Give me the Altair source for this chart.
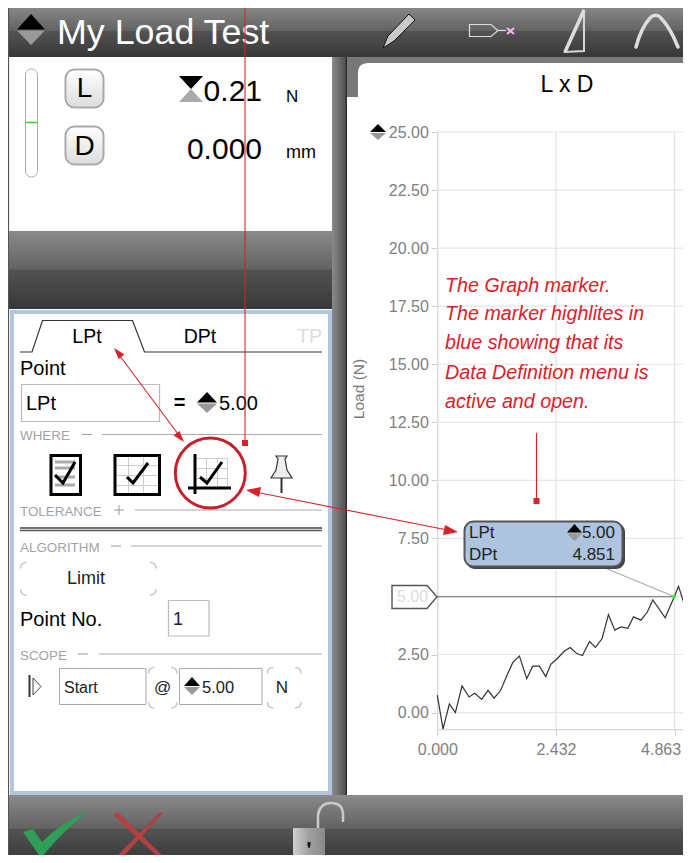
import re
import altair as alt
import pandas as pd

# ---- chart data ----
distance = [0.000,0.117,0.247,0.370,0.507,0.650,0.767,0.910,1.040,1.163,1.300,1.437,1.546,1.683,1.833,1.956,2.093,2.223,2.326,2.462,2.599,2.722,2.859,2.975,3.119,3.242,3.378,3.508,3.638,3.768,3.905,4.021,4.172,4.302,4.418,4.671,4.855,4.944,5.067,5.197]
load = [0.75,-0.71,0.37,0.00,1.15,0.67,0.83,0.57,0.96,0.62,0.96,1.65,2.15,2.43,1.46,2.00,2.00,1.55,2.08,2.33,2.64,2.80,2.54,2.46,3.06,2.81,3.19,4.22,3.55,3.69,3.63,4.12,3.98,4.32,4.85,4.08,4.98,5.44,4.63,5.67]
y_ticks = [0.0,2.5,5.0,7.5,10.0,12.5,15.0,17.5,20.0,22.5,25.0]
x_ticks = [0.000,2.432,4.863]
marker_load = [5.00]
marker_distance = [4.851]
note_lines = ["The Graph marker.","The marker highlites in","blue showing that its","Data Definition menu is","active and open."]

SANS = "Liberation Sans"
OFF = 8
W, H = 675, 847
RED = "#dc2029"
one = pd.DataFrame({"i":[0]})
layers = []

def grad(*stops):
    return alt.Gradient(gradient="linear", x1=0, x2=0, y1=0, y2=1,
                        stops=[alt.GradientStop(color=c, offset=o) for o, c in stops])

def R(x0, y0, x1, y1, fill=None, stroke=None, sw=1, radius=0):
    kw = {}
    if fill is not None: kw["color"] = fill
    else: kw["fillOpacity"] = 0
    if stroke is not None:
        kw["stroke"] = stroke; kw["strokeWidth"] = sw
    if radius: kw["cornerRadius"] = radius
    layers.append(alt.Chart(one).mark_rect(opacity=1, **kw).encode(
        x=alt.value(x0-OFF), x2=alt.value(x1-OFF), y=alt.value(y0-OFF), y2=alt.value(y1-OFF)))

def P(d, fill=None, stroke=None, sw=1, cap="butt", join="miter"):
    toks = re.findall(r"[A-Za-z]|-?\d+\.?\d*", d)
    nums = [float(t) for t in toks if not t.isalpha()]
    xs_, ys_ = nums[0::2], nums[1::2]
    cx, cy = (min(xs_)+max(xs_))/2, (min(ys_)+max(ys_))/2
    r = max(max(xs_)-min(xs_), max(ys_)-min(ys_))/2 or 1
    out, i = [], 0
    for t in toks:
        if t.isalpha():
            out.append(t)
        else:
            v = float(t)
            out.append(f"{(v-(cx if i%2==0 else cy))/r:.5f}")
            i += 1
    kw = {"shape":" ".join(out), "size":(2*r)**2, "opacity":1, "strokeCap":cap, "strokeJoin":join}
    if fill is not None:
        kw["filled"] = True; kw["fill"] = fill
    else:
        kw["filled"] = False
    if stroke is not None:
        kw["stroke"] = stroke; kw["strokeWidth"] = sw
    else:
        kw["strokeWidth"] = 0
    layers.append(alt.Chart(one).mark_point(**kw).encode(x=alt.value(cx-OFF), y=alt.value(cy-OFF)))

def L(x0, y0, x1, y1, color="#aaa", sw=1, cap="butt"):
    P(f"M{x0} {y0} L{x1} {y1}", stroke=color, sw=sw, cap=cap)

def T(x, y, s, size, color="#000", align="left", font=SANS, style=None, weight=None):
    kw = {}
    if style: kw["fontStyle"] = style
    if weight: kw["fontWeight"] = weight
    layers.append(alt.Chart(one).mark_text(text=s, fontSize=size, color=color, align=align,
                                           baseline="alphabetic", font=font, **kw).encode(
        x=alt.value(x-OFF), y=alt.value(y-OFF)))

def spin(x0, x1, y0, y1, hour=False):
    m = (y0+y1)/2; c = (x0+x1)/2
    if hour:
        P(f"M{x0} {y0} L{x1} {y0} L{c} {m} Z", fill="#000")
        P(f"M{x0} {y1} L{x1} {y1} L{c} {m} Z", fill="#aaa")
    else:
        P(f"M{x0} {m} L{c} {y0} L{x1} {m} Z", fill="#000")
        P(f"M{x0} {m+1} L{c} {y1} L{x1} {m+1} Z", fill="#999")

def corners(x0, y0, x1, y1, l=6, color="#c8c8c8"):
    P(f"M{x0} {y0+l} Q{x0} {y0} {x0+l} {y0} M{x1-l} {y0} Q{x1} {y0} {x1} {y0+l} "
      f"M{x1} {y1-l} Q{x1} {y1} {x1-l} {y1} M{x0+l} {y1} Q{x0} {y1} {x0} {y1-l}", stroke=color, sw=1.5)

band = grad((0,"#8a8a8a"),(0.49,"#626262"),(0.5,"#525252"),(1,"#383838"))

# ---- chart scales and axes ----
xs = alt.Scale(domain=[0,5.2], range=[429.3,683], nice=False, zero=False)
ys = alt.Scale(domain=[-0.72,25], range=[721.3,124], nice=False, zero=False)
x_axis = alt.Axis(values=x_ticks, format=".3f", title=None, grid=False, orient="bottom",
            offset=-(H-721.3), domainColor="#cccccc", tickColor="#cccccc", tickSize=6, labelColor="#808080",
            labelFont=SANS, labelFontSize=16, labelPadding=6, labelFlush=False, labelOverlap=False,
            labelOffset={"condition":{"test":"datum.value > 4","value":-14},"value":0})
y_axis = alt.Axis(values=y_ticks, format=".2f", title="Load (N)", grid=False, orient="left",
            offset=-429.3, domainColor="#cccccc", tickColor="#cccccc", tickSize=6, labelColor="#808080",
            labelFont=SANS, labelFontSize=16, labelPadding=3, labelFlush=False, labelOverlap=False,
            titleColor="#777777", titleFont=SANS, titleFontSize=15.5, titleFontWeight="normal",
            titleX=-71, titleY=380.5)
X = alt.X("d:Q", scale=xs, axis=x_axis)
Y = alt.Y("l:Q", scale=ys, axis=y_axis)

layers.append(alt.Chart(pd.DataFrame({"l":y_ticks})).mark_rule(color="#e6e6e6", strokeWidth=1.2).encode(
    y=Y, x=alt.value(429), x2=alt.value(683)))
layers.append(alt.Chart(pd.DataFrame({"d":x_ticks[1:]})).mark_rule(color="#e2e2e2", strokeWidth=1.2).encode(
    x=X, y=alt.value(124), y2=alt.value(721)))
layers.append(alt.Chart(pd.DataFrame({"d":distance,"l":load})).mark_line(color="#333333", strokeWidth=1.2, clip=False).encode(x=X, y=Y))

# ---- window chrome ----
R(8,6,691,57,fill=band)
L(8.5,6,8.5,863,color="#555",sw=1.2)
R(332,57,347,795,fill=alt.Gradient(gradient="linear",x1=0,x2=1,y1=0,y2=0,stops=[alt.GradientStop(color="#8a8a8a",offset=0),alt.GradientStop(color="#555",offset=0.85),alt.GradientStop(color="#222",offset=1)]))
P("M347 57 L691 57 L691 63 L368 63 Q358 63 358 73 L358 97 L347 97 Z", fill="#787878")
R(9,231,332,309,fill=band)
R(9,795,691,863,fill=band)
R(12,312,330,793,fill="#ffffff",stroke="#b2c6e0",sw=4)

# header
spin(17,45,14,45)
T(57,44,"My Load Test",35.8,"#ffffff")
P("M383 48 L388 36 L409 14 L415 20 L394 41 Z", fill="#c9c9c9", stroke="#111", sw=1)
P("M469.5 24.5 L491 24.5 L498 30.5 L491 36.5 L469.5 36.5 Z", stroke="#ddd", sw=1.2)
L(498,30.5,506,30.5,color="#ddd",sw=1.2)
P("M507 28 L514 34 M514 28 L507 34", stroke="#f0b8f0", sw=2)
P("M565 52 L584 10 L584 51 Z", stroke="#d8d8d8", sw=2)
L(565,52,584,10,color="#dddddd",sw=3.5)
P("M636 47 Q641 28 650 18 Q655 13 660 17 Q670 27 678 47", stroke="#dddddd", sw=3.5, cap="round")

# status panel
R(25.5,69,37.5,177,fill="#ffffff",stroke="#aaaaaa",sw=1,radius=6)
L(26,122.5,37,122.5,color="#33dd33",sw=1.6)
btn = grad((0,"#ffffff"),(1,"#dcdcdc"))
R(65.5,69.5,103.5,107.5,fill=btn,stroke="#aaaaaa",sw=2,radius=9)
R(65.5,126.5,103.5,164.5,fill=btn,stroke="#aaaaaa",sw=2,radius=9)
T(84.5,97,"L",28,align="center")
T(84.5,155,"D",28,align="center")
spin(179,203,76,102,hour=True)
T(262,101,"0.21",30,align="right")
T(262,159,"0.000",30,align="right")
T(286,102,"N",17)
T(286,158,"mm",18)

# data definition panel
P("M20 352 L32 352 L42.5 320.5 L132.5 320.5 L144.5 352 L322 352", stroke="#333", sw=1.2)
T(87,343,"LPt",19.5,align="center")
T(200,343,"DPt",19.5,align="center")
T(322,343,"TP",19.5,"#dcdcdc",align="right")
T(20,375,"Point",20)
R(21.5,384.5,159.5,421.5,stroke="#bbbbbb",sw=1.2)
T(26,410,"LPt",20)
T(179.5,409,"=",20,align="center",weight="bold")
spin(197,217,392,413)
T(219,410,"5.00",20)

def section(label, y, sym_x, line_x, sym="-"):
    T(20,y+5.5,label,13.4,"#9fa3ab")
    L(sym_x,y,sym_x+10,y,color="#999",sw=1)
    if sym == "+":
        L(sym_x+5,y-5,sym_x+5,y+5,color="#999",sw=1)
    L(line_x,y,322,y,color="#aaaaaa",sw=1)
section("WHERE",434.5,82,102)
section("TOLERANCE",510,114,135,sym="+")
section("ALGORITHM",546,111,131)
section("SCOPE",654,78,99)
L(20,528,322,528,color="#444",sw=1.4)
L(20,530.5,322,530.5,color="#555",sw=1.4)

# where icons
R(51,455.5,80.5,494.5,stroke="#000",sw=3)
for yy in (462,468,477,485):
    L(55,yy,75,yy,color="#aaaaaa",sw=3)
P("M55 475 L63 483 L75 462", stroke="#000", sw=3)
for xx in (128.5,143.5):
    L(xx,456,xx,494,color="#cccccc",sw=1)
for yy in (465.5,475.5,485.5):
    L(115,yy,159,yy,color="#cccccc",sw=1)
R(115,455.5,159.5,494.5,stroke="#000",sw=3)
P("M127 477 L133 483 L148 463", stroke="#000", sw=3)
for xx in (206.5,217.5,227.5):
    L(xx,458,xx,487,color="#cccccc",sw=1)
for yy in (458.5,468.5,478.5):
    L(196,yy,228,yy,color="#cccccc",sw=1)
L(195,454,195,494,color="#000",sw=3)
L(188,488,231,488,color="#000",sw=3)
P("M200 477 L207 483 L222 462", stroke="#000", sw=3)
layers.append(alt.Chart(one).mark_point(shape="circle", size=70**2, filled=False, stroke="#c8202a", strokeWidth=3, opacity=1).encode(
    x=alt.value(210.3-OFF), y=alt.value(473-OFF)))
P("M276 456 L287 456 L285 459 L287 470 L292 478 L271 478 L276 470 L278 459 Z", fill="#eeeeee", stroke="#333", sw=1.2)
L(281.5,478,281.5,493,color="#333",sw=2)

# algorithm / scope
corners(20.5,562.5,156,595)
T(86,584,"Limit",18,"#222",align="center")
T(20,626,"Point No.",20)
R(168.5,600.5,209,636,stroke="#bbbbbb",sw=1.2)
T(173,625,"1",18,"#222")
L(29.5,675,29.5,697,color="#333",sw=2)
P("M33 678 L41 686.5 L33 695 Z", stroke="#444", sw=1)
R(59.5,668.5,146,704.5,stroke="#aaaaaa",sw=1)
T(64,693,"Start",16,"#222")
corners(148.5,667.5,177,708)
T(162.5,693,"@",17,"#222",align="center")
R(179.5,668.5,262,704.5,stroke="#aaaaaa",sw=1)
spin(184,200,677,695)
T(202,693,"5.00",16.5,"#222")
corners(267.5,667.5,301,708)
T(282,693,"N",17,"#222",align="center")

# bottom bar
P("M23 832 L33 829 L42 842 Q62 822 89 810 Q62 832 41 858 Z", fill="#2f9e58")
P("M113 815 L118 812 L164 857 L160 859 Z", fill="#b24242")
P("M160 812 L163 813 L121 859 L116 857 Z", fill="#b24242")
P("M318 830 L318 815 Q320 803 331 803 Q343 803 343 815 L343 822", stroke="#c9c9c9", sw=2.5)
R(293,828,325,863,fill=alt.Gradient(gradient="linear",x1=0,x2=1,y1=0,y2=0,stops=[alt.GradientStop(color="#d0d0d0",offset=0),alt.GradientStop(color="#a0a0a0",offset=0.5),alt.GradientStop(color="#8a8a8a",offset=1)]))
P("M307.5 842 L310.5 842 L310.5 845 L309.5 848 L308.5 848 L307.5 845 Z", fill="#111")

# graph panel
T(567,92,"L x D",23,align="center")
spin(370,386,124,140)

# limit marker
L(437,596.7,674,596.7,color="#666",sw=1.1)
P("M392 585.5 L427 585.5 L437 596.7 L427 608.5 L392 608.5 Z", fill="#ffffff", stroke="#555", sw=1.4)
T(397,602,"5.00",16,"#dddddd")
L(605,568,674,596.5,color="#aaaaaa",sw=1.1)
layers.append(alt.Chart(pd.DataFrame({"d":marker_distance,"l":marker_load})).mark_point(
    filled=True, color="#33ee33", size=16, opacity=1).encode(x=X, y=Y))
R(466,523,625,569,fill="#444444",radius=9)
R(464.5,521.5,622.5,566.5,fill="#aec3de",stroke="#555555",sw=2,radius=9)
T(469,538,"LPt",17,"#222")
T(469,560,"DPt",17,"#222")
spin(567,582,524,541)
T(615,538,f"{marker_load[0]:.2f}",17,"#222",align="right")
T(615,560,f"{marker_distance[0]:.3f}",17,"#222",align="right")

# red annotations
for t, yy in zip(note_lines,(291.5,320,349,379,408)):
    T(445,yy,t,19.7,RED,style="italic")
L(245,0,245,443,color=RED,sw=1.1)
R(242,440,248,446,fill=RED)
L(536.5,433,536.5,500,color=RED,sw=1.1)
R(533.5,498,539.5,504,fill=RED)
L(117,352,181,438,color=RED,sw=1.1)
P("M114 348 L124.5 354.5 L118.5 359 Z", fill=RED)
P("M184 442 L173.5 435.5 L179.5 431 Z", fill=RED)
L(250,491,455,531.5,color=RED,sw=1.1)
P("M246 490 L261 487 L259 497 Z", fill=RED)
P("M458 532 L443 535 L445 525 Z", fill=RED)

chart = alt.layer(*layers).properties(
    width=W, height=H, padding=0, background="#ffffff",
    autosize=alt.AutoSizeParams(type="none")
).configure_view(stroke=None)

chart.save("out.html", embed_options={"renderer":"svg","actions":False})
